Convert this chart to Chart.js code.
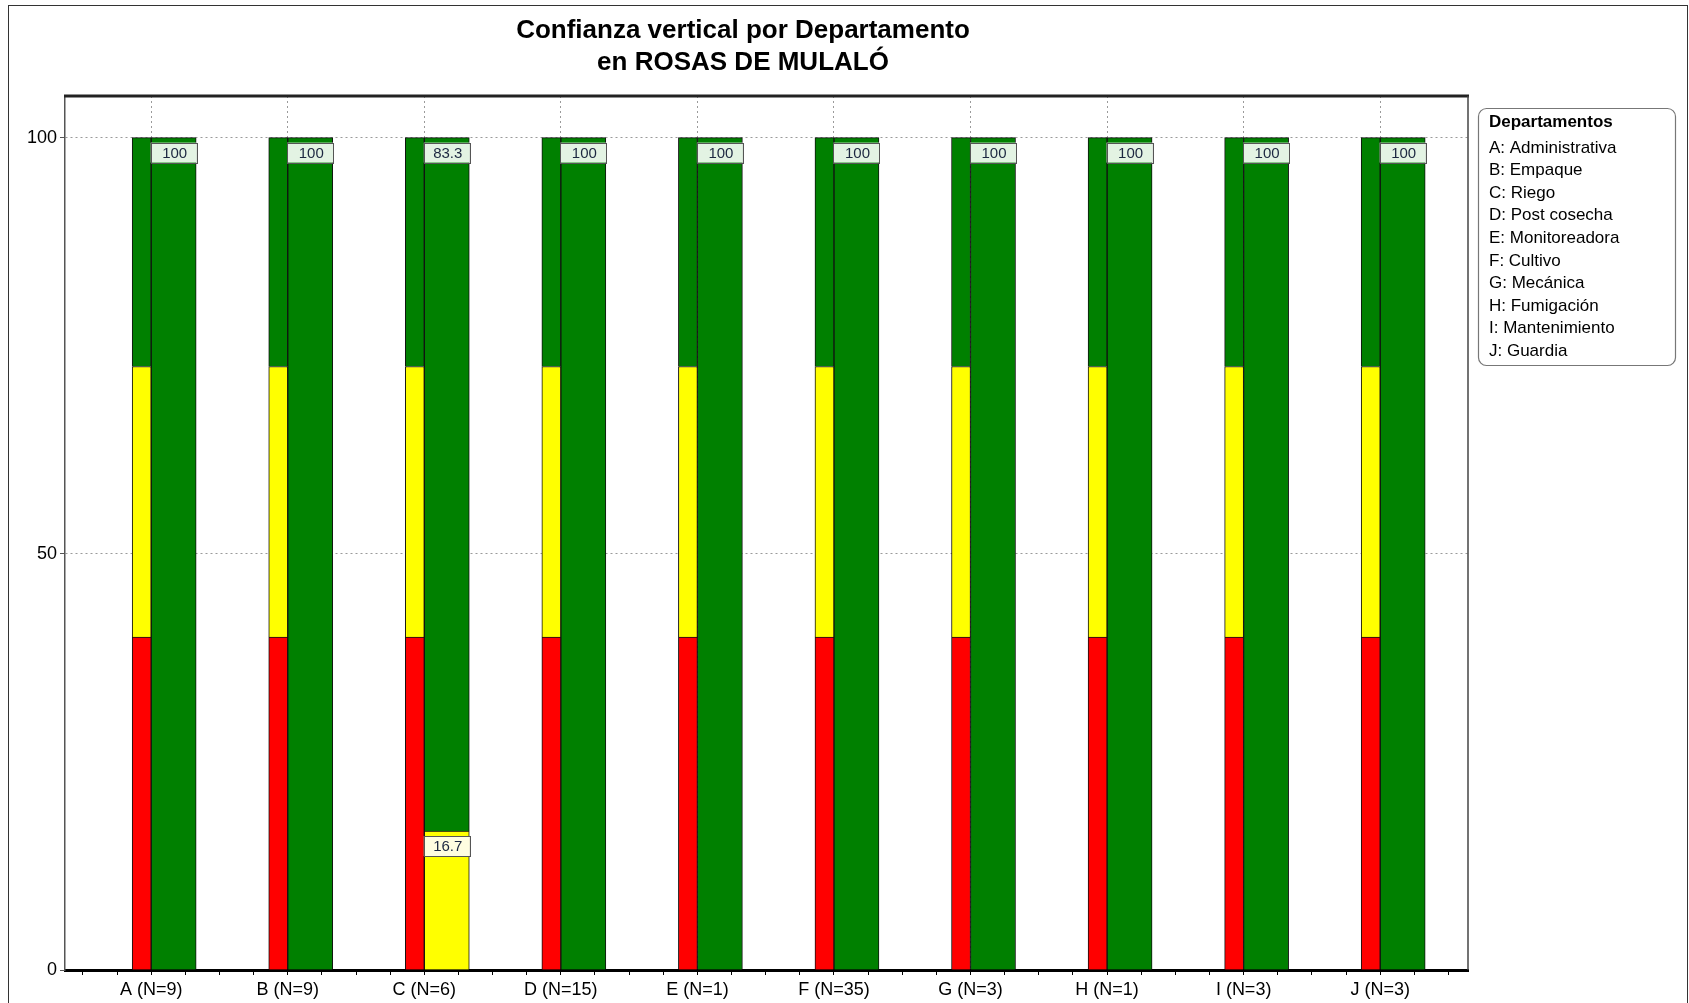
<!DOCTYPE html>
<html>
<head>
<meta charset="utf-8">
<title>Confianza vertical por Departamento</title>
<script src="https://cdn.jsdelivr.net/npm/chart.js@4.4.1/dist/chart.umd.min.js"></script>
<style>
body{margin:0;background:#fff;}
#wrap{position:relative;width:1689px;height:1003px;}
</style>
</head>
<body>
<div id="wrap"><canvas id="myBars"></canvas></div>
<script>
// categories and values
const labels=["A (N=9)","B (N=9)","C (N=6)","D (N=15)","E (N=1)","F (N=35)","G (N=3)","H (N=1)","I (N=3)","J (N=3)"];
const deptNames=["A: Administrativa","B: Empaque","C: Riego","D: Post cosecha","E: Monitoreadora","F: Cultivo","G: Mecánica","H: Fumigación","I: Mantenimiento","J: Guardia"];
const titleLines=["Confianza vertical por Departamento","en ROSAS DE MULALÓ"];
const legendTitle="Departamentos";

// reference scale bar (red / yellow / green bands)
const refRed=[40,40,40,40,40,40,40,40,40,40];
const refYellow=[32.5,32.5,32.5,32.5,32.5,32.5,32.5,32.5,32.5,32.5];
const refGreen=[27.5,27.5,27.5,27.5,27.5,27.5,27.5,27.5,27.5,27.5];

// answers per department (percent)
const valYellow=[0,0,16.7,0,0,0,0,0,0,0];
const valGreen=[100,100,83.3,100,100,100,100,100,100,100];

const yTicks=[0,50,100];

const FONT="'Liberation Sans', Arial, sans-serif";
const pts=arr=>arr.map((v,i)=>({x:i,y:v}));

const boxLabels={
  id:'boxLabels',
  afterDatasetsDraw(chart){
    const c=chart.ctx;
    chart.data.datasets.forEach((ds,di)=>{
      if(!ds.boxFill) return;
      chart.getDatasetMeta(di).data.forEach((bar,i)=>{
        const v=ds.data[i].y;
        if(!v) return;
        const w=bar.width+1, l=bar.x-w/2, t=bar.y+5, h=20;
        c.save();
        c.fillStyle=ds.boxFill;
        c.fillRect(l,t,w,h);
        c.strokeStyle='#555';
        c.lineWidth=1;
        c.strokeRect(Math.round(l)+0.5,Math.round(t)+0.5,Math.round(w),h);
        c.fillStyle='#1c2740';
        c.font='15px '+FONT;
        c.textAlign='center';
        c.textBaseline='middle';
        c.fillText(String(v),bar.x+1,t+h/2+1);
        c.restore();
      });
    });
  }
};

const frameAndText={
  id:'frameAndText',
  afterDraw(chart){
    const c=chart.ctx, a=chart.chartArea;
    c.save();
    // outer frame
    c.strokeStyle='#333';
    c.lineWidth=1;
    c.strokeRect(8.5,5.5,1679,1010);
    // plot frame: top and right
    c.strokeStyle='#222';
    c.lineWidth=3;
    c.beginPath();c.moveTo(a.left-1,a.top);c.lineTo(a.right+1,a.top);c.stroke();
    c.strokeStyle='#444';
    c.lineWidth=1.5;
    c.beginPath();c.moveTo(a.right,a.top);c.lineTo(a.right,a.bottom);c.stroke();
    // title
    c.fillStyle='#000';
    c.font='bold 26px '+FONT;
    c.textAlign='center';
    c.textBaseline='middle';
    c.fillText(titleLines[0],743,31);
    c.fillText(titleLines[1],743,63);
    // legend box
    const lx=1478, ly=108, lw=197, lh=257, r=8;
    c.strokeStyle='#777';
    c.lineWidth=1.2;
    c.beginPath();
    c.roundRect(lx+0.5,ly+0.5,lw,lh,r);
    c.stroke();
    c.textAlign='left';
    c.font='bold 17px '+FONT;
    c.fillText(legendTitle,lx+11,ly+14);
    c.font='17px '+FONT;
    deptNames.forEach((n,i)=>c.fillText(n,lx+11,ly+40+i*22.6));
    c.restore();
  }
};

const ctx=document.getElementById("myBars");
new Chart(ctx,{
  type:'bar',
  data:{
    datasets:[
      {label:'ref rojo',stack:'ref',data:pts(refRed),backgroundColor:'#ff0000',barThickness:19},
      {label:'ref amarillo',stack:'ref',data:pts(refYellow),backgroundColor:'#ffff00',barThickness:19},
      {label:'ref verde',stack:'ref',data:pts(refGreen),backgroundColor:'#008000',barThickness:19},
      {label:'amarillo',stack:'val',data:pts(valYellow),backgroundColor:'#ffff00',barThickness:45,boxFill:'#fffde0'},
      {label:'verde',stack:'val',data:pts(valGreen),backgroundColor:'#008000',barThickness:45,boxFill:'#e3f3e3'}
    ]
  },
  options:{
    responsive:true,
    maintainAspectRatio:false,
    animation:false,
    datasets:{bar:{borderColor:'#111',borderWidth:1,grouped:true}},
    layout:{padding:{top:96,right:221,left:0,bottom:0}},
    plugins:{legend:{display:false},tooltip:{enabled:false},title:{display:false}},
    scales:{
      x:{
        type:'linear',
        offset:false,
        min:-0.631,
        max:9.643,
        afterBuildTicks:s=>{
          const t=[];
          for(let k=-2;k<=38;k++) t.push({value:k/4});
          s.ticks=t;
        },
        afterFit:s=>{s.height=33;},
        ticks:{
          autoSkip:false,maxRotation:0,padding:4,color:'#000',
          font:{family:FONT,size:18},
          callback:v=>Number.isInteger(v)?labels[v]:''
        },
        grid:{
          offset:false,
          color:c=>Number.isInteger(c.tick&&c.tick.value)?'#9a9a9a':'rgba(0,0,0,0)',
          tickColor:'#000',tickLength:5,tickBorderDash:[]
        },
        border:{color:'#000',width:3,dash:[2,3]}
      },
      y:{
        stacked:true,
        min:0,
        max:105,
        afterBuildTicks:s=>{s.ticks=yTicks.map(v=>({value:v}));},
        afterFit:s=>{s.width=65;},
        ticks:{padding:3,color:'#000',font:{family:FONT,size:18}},
        grid:{color:'#9a9a9a',tickColor:'#555',tickLength:5,tickBorderDash:[]},
        border:{color:'#555',width:1.5,dash:[2,3]}
      }
    }
  },
  plugins:[boxLabels,frameAndText]
});
</script>
</body>
</html>
